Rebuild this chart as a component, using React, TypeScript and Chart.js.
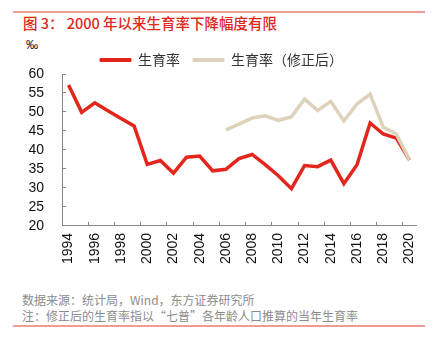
import React, { useEffect, useRef } from 'react';
import { Chart, registerables } from 'chart.js';

Chart.register(...registerables);

const years = ['1994','1995','1996','1997','1998','1999','2000','2001','2002','2003','2004','2005','2006','2007','2008','2009','2010','2011','2012','2013','2014','2015','2016','2017','2018','2019','2020'];
const birthRate = [57.1, 49.9, 52.4, 50.3, 48.3, 46.3, 36.2, 37.2, 33.9, 38.1, 38.4, 34.5, 34.9, 37.7, 38.8, 36.1, 33.2, 29.8, 35.9, 35.6, 37.3, 31.1, 36.1, 47.1, 44.2, 43.1, 37.4];
const birthRateRevised = [null, null, null, null, null, null, null, null, null, null, null, null, 45.3, 46.8, 48.4, 49.0, 47.8, 48.7, 53.4, 50.4, 52.8, 47.6, 52.1, 54.7, 46.0, 44.2, 37.4];
const seriesNames = ['生育率', '生育率（修正后）'];
const yMin = 20;
const yMax = 60;
const yStep = 5;

const RED = '#e3261c';
const BEIGE = '#ddd3bb';
const CJK = '"Noto Sans CJK SC", "Liberation Sans", sans-serif';
const LATIN = '"Liberation Sans", Arial, sans-serif';

const legendShrink = {
  id: 'legendShrink',
  beforeLayout(chart: any) {
    const lg: any = chart.legend;
    if (lg && !lg._patched) {
      const f = lg.fit.bind(lg);
      lg.fit = function () {
        f();
        this.height -= 3;
      };
      lg._patched = true;
    }
  },
};

export default function App() {
  const ref = useRef<HTMLCanvasElement | null>(null);

  useEffect(() => {
    if (!ref.current) return;
    const origGen = Chart.defaults.plugins.legend.labels.generateLabels;
    const chart = new Chart(ref.current, {
      type: 'line',
      data: {
        labels: years,
        datasets: [
          { label: seriesNames[0], data: birthRate, borderColor: RED, backgroundColor: RED, borderWidth: 3.5, pointRadius: 0, tension: 0, order: 1 },
          { label: seriesNames[1], data: birthRateRevised, borderColor: BEIGE, backgroundColor: BEIGE, borderWidth: 3.5, pointRadius: 0, tension: 0, order: 0 },
        ],
      },
      plugins: [legendShrink],
      options: {
        animation: false,
        responsive: true,
        maintainAspectRatio: false,
        layout: { padding: { left: 27, right: 22, top: 0, bottom: 4 } },
        plugins: {
          tooltip: { enabled: false },
          legend: {
            position: 'top',
            labels: {
              boxWidth: 31, boxHeight: 3, padding: 13, color: '#333',
              font: { family: CJK, size: 14 },
              sort: (a: any, b: any) => a.datasetIndex - b.datasetIndex,
              generateLabels: (c: any) => origGen(c).map((l: any) => ({ ...l, lineWidth: 1, fillStyle: l.strokeStyle })),
            },
          },
        },
        scales: {
          x: {
            type: 'category', offset: true,
            grid: { offset: true, drawOnChartArea: false, drawTicks: true, tickLength: -4, color: (ctx: any) => (ctx.index % 2 === 0 ? '#888' : 'rgba(0,0,0,0)') },
            border: { display: true, color: '#888', width: 1 },
            ticks: { autoSkip: false, minRotation: 90, maxRotation: 90, padding: 11, color: '#111', font: { family: LATIN, size: 14 },
              callback: (_v: any, i: number) => (i % 2 === 0 ? years[i] : '') },
          },
          y: {
            min: yMin, max: yMax,
            afterFit: (scale: any) => { scale.width = 35; },
            grid: { drawOnChartArea: false, drawTicks: true, tickLength: -4, color: '#888' },
            border: { display: true, color: '#888', width: 1 },
            ticks: { stepSize: yStep, maxTicksLimit: 20, autoSkip: false, padding: 22, color: '#111', font: { family: LATIN, size: 14 } },
          },
        },
      },
    } as any);
    return () => chart.destroy();
  }, []);

  return (
    <div style={{ position: 'absolute', left: 0, top: 0, width: 438, height: 343, background: '#fff', overflow: 'hidden' }}>
      <div style={{ position: 'absolute', left: 13, top: 11, width: 412, height: 2, background: '#f29b95' }} />
      <div style={{ position: 'absolute', left: 23, top: 12, lineHeight: '21px', fontSize: 14.5, fontWeight: 500, color: RED, fontFamily: CJK, whiteSpace: 'nowrap' }}>
        图 3： 2000 年以来生育率下降幅度有限
      </div>
      <div style={{ position: 'absolute', left: 26, top: 37, lineHeight: '16px', fontSize: 12, color: '#111', fontFamily: LATIN }}>‰</div>
      <div style={{ position: 'absolute', left: 0, top: 40, width: 438, height: 239 }}>
        <canvas ref={ref} />
      </div>
      <div style={{ position: 'absolute', left: 22, top: 291, lineHeight: '18px', fontSize: 12, color: '#8c8c8c', fontFamily: CJK, whiteSpace: 'nowrap' }}>
        数据来源：统计局，Wind，东方证券研究所
      </div>
      <div style={{ position: 'absolute', left: 22, top: 307, lineHeight: '18px', fontSize: 12, color: '#8c8c8c', fontFamily: CJK, whiteSpace: 'nowrap' }}>
        注：修正后的生育率指以“七普”各年龄人口推算的当年生育率
      </div>
      <div style={{ position: 'absolute', left: 13, top: 325, width: 412, height: 2, background: '#f29b95' }} />
    </div>
  );
}
